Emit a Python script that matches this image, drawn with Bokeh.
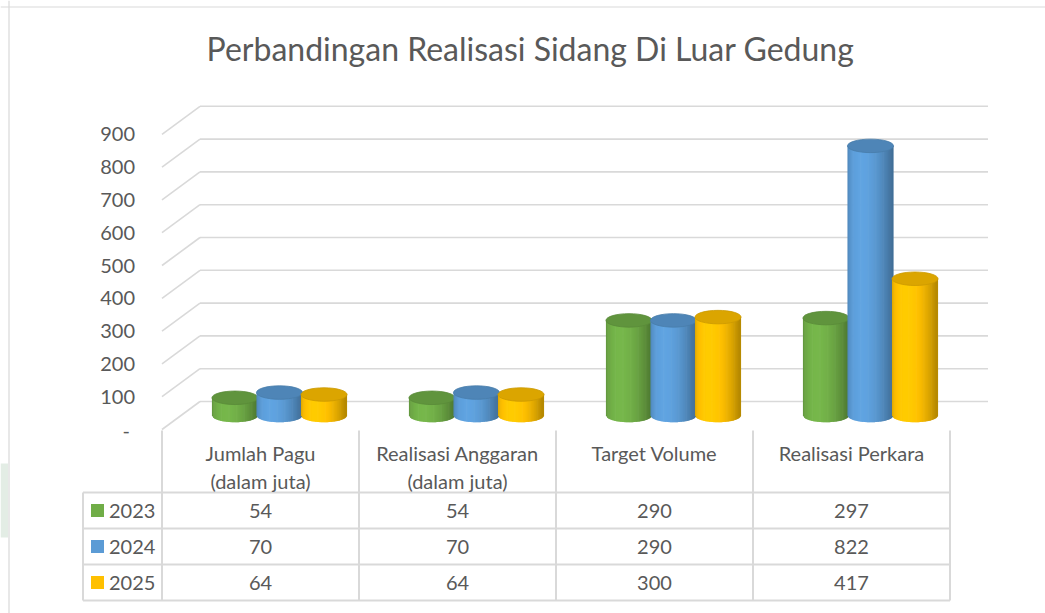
import numpy as np
from bokeh.plotting import figure
from bokeh.models import Range1d, Label, Span, BoxAnnotation
from bokeh.core.properties import value
from bokeh.embed import file_html
from bokeh.resources import INLINE

# ---------------- data ----------------
title_text = "Perbandingan Realisasi Sidang Di Luar Gedung"
categories = ["Jumlah Pagu\n(dalam juta)", "Realisasi Anggaran\n(dalam juta)",
              "Target Volume", "Realisasi Perkara"]
years = ["2023", "2024", "2025"]
v2023 = [54, 54, 290, 297]
v2024 = [70, 70, 290, 822]
v2025 = [64, 64, 300, 417]
y_ticks = [0, 100, 200, 300, 400, 500, 600, 700, 800, 900]
y_tick_labels = ["- ", "100", "200", "300", "400", "500", "600", "700", "800", "900"]
series = [v2023, v2024, v2025]
colors = ["#70AD47", "#5B9BD5", "#FFC000"]

# ---------------- geometry (pixels per unit) ----------------
W, H = 1045, 613
PXX = 197.0          # px per category
PXV = 0.328          # px per value unit
OX, OY = 279.0, 415.0  # canvas position of (category 0, value 0), y from top
DX = 38.0 / PXX      # depth offset in x units
DV = 28.0 / PXV      # depth offset in value units
ROW = 36.0           # px per table row
TBL0 = 600.0         # canvas y (from top) of table bottom

TXT = "#595959"
GRID = "#d9d9d9"
FONT = "Lato"

p = figure(width=W, height=H, output_backend="svg", toolbar_location=None,
           x_range=Range1d(-OX / PXX, (W - OX) / PXX),
           y_range=Range1d(-(H - OY) / PXV, OY / PXV),
           x_axis_location=None, y_axis_location=None, min_border=0,
           outline_line_color=None, background_fill_color="white",
           border_fill_color="white")
p.grid.visible = False
p.extra_y_ranges = {"tbl": Range1d(-(H - TBL0) / ROW, TBL0 / ROW)}

# faint page decoration at left edge
p.add_layout(BoxAnnotation(left=-OX / PXX, right=(7.5 - OX) / PXX,
                           bottom=(OY - 537) / PXV, top=(OY - 463) / PXV,
                           fill_color="#e3ede5", fill_alpha=1.0, line_color=None))

# chart border (top / left)
p.add_layout(Span(location=(8.5 - OX) / PXX, dimension="height",
                  line_color=GRID, line_width=1.2))
p.add_layout(Span(location=(OY - 6.5) / PXV, dimension="width",
                  line_color=GRID, line_width=1.2))

n = len(categories)
xl_front = -0.5 - DX / 2
xl_back = -0.5 + DX / 2
xr_back = n - 0.5 + DX / 2

# back wall gridlines + left wall diagonals
yb = [t + DV / 2 for t in y_ticks]
yf = [t - DV / 2 for t in y_ticks]
p.segment(x0=[xl_back] * len(y_ticks), y0=yb, x1=[xr_back] * len(y_ticks), y1=yb,
          line_color=GRID, line_width=1.6)
p.segment(x0=[xl_front] * len(y_ticks), y0=yf, x1=[xl_back] * len(y_ticks), y1=yb,
          line_color=GRID, line_width=1.6)

# y tick labels
p.text(x=[xl_front - 27 / PXX] * len(y_ticks), y=yf, text=y_tick_labels,
       text_align="right", text_baseline="middle", text_color=TXT,
       text_font=value(FONT), text_font_size=value("20px"))

# ---------------- cylinders ----------------
SP = 0.226
CW = 0.234
EH = 13.5 / PXV
NS = 40


def shade(hexcol, f):
    r, g, b = int(hexcol[1:3], 16), int(hexcol[3:5], 16), int(hexcol[5:7], 16)
    return "#%02x%02x%02x" % tuple(int(max(0, min(255, c * f))) for c in (r, g, b))


for i in range(n):
    for j, vals in enumerate(series):
        cx = i + (j - 1) * SP
        top = vals[i]
        xs, ys, cols = [], [], []
        edges = np.linspace(cx - CW / 2, cx + CW / 2, NS + 1)
        sw = edges[1] - edges[0]
        for k in range(NS):
            x0 = edges[k]
            x1 = min(edges[k + 1] + 0.6 * sw, cx + CW / 2)
            t0 = (x0 - cx) / (CW / 2)
            t1 = (x1 - cx) / (CW / 2)
            b0 = -EH / 2 * np.sqrt(max(0.0, 1 - t0 ** 2))
            b1 = -EH / 2 * np.sqrt(max(0.0, 1 - t1 ** 2))
            tm = (edges[k] + edges[k + 1]) / 2
            tm = (tm - cx) / (CW / 2)
            th = np.arcsin(max(-1, min(1, tm)))
            f = 0.72 + 0.34 * max(0.0, np.cos(th + 0.40)) ** 1.3
            xs.append([x0, x1, x1, x0])
            ys.append([b0, b1, top, top])
            cols.append(shade(colors[j], f))
        p.patches(xs=xs, ys=ys, fill_color=cols, line_color=None)
        tc = shade(colors[j], 0.86)
        p.ellipse(x=[cx], y=[top], width=CW, height=EH, fill_color=tc,
                  line_color=shade(colors[j], 0.80), line_width=0.8)

# ---------------- title ----------------
p.add_layout(Label(x=(530 - OX) / PXX, y=(OY - 48) / PXV, text=title_text,
                   text_align="center", text_baseline="middle", text_color=TXT,
                   text_font=FONT, text_font_size="32px"))

# ---------------- data table ----------------
xb = [i - 0.5 - DX / 2 for i in range(n + 1)]
x_leg = xb[0] - 79 / PXX
hdr_top = (TBL0 - 430) / ROW
nrows = len(years)

p.segment(x0=xb, y0=[0] * len(xb), x1=xb, y1=[hdr_top] * len(xb),
          line_color=GRID, line_width=2, y_range_name="tbl")
p.segment(x0=[x_leg], y0=[0], x1=[x_leg], y1=[nrows],
          line_color=GRID, line_width=2, y_range_name="tbl")
p.segment(x0=[x_leg] * (nrows + 1), y0=list(range(nrows + 1)),
          x1=[xb[-1]] * (nrows + 1), y1=list(range(nrows + 1)),
          line_color=GRID, line_width=2, y_range_name="tbl")

# category header texts
p.text(x=[i - DX / 2 for i in range(n)], y=[(TBL0 - 440) / ROW] * n,
       text=categories, text_align="center", text_baseline="top",
       text_line_height=1.17, text_color=TXT, text_font=value(FONT),
       text_font_size=value("20px"), y_range_name="tbl")

# values
for j, vals in enumerate(series):
    yrow = nrows - j - 0.5
    p.text(x=[i - DX / 2 for i in range(n)], y=[yrow] * n,
           text=[str(v) for v in vals], text_align="center",
           text_baseline="middle", text_color=TXT, text_font=value(FONT),
           text_font_size=value("20px"), y_range_name="tbl")

# legend keys
ly = [nrows - j - 0.5 for j in range(nrows)]
p.scatter(x=[x_leg + 14.5 / PXX] * nrows, y=ly, marker="square", size=13,
          fill_color=colors, line_color=None, y_range_name="tbl")
p.text(x=[x_leg + 26 / PXX] * nrows, y=ly, text=years, text_align="left",
       text_baseline="middle", text_color=TXT, text_font=value(FONT),
       text_font_size=value("20px"), y_range_name="tbl")

open("out.html", "w").write(file_html(p, INLINE))
